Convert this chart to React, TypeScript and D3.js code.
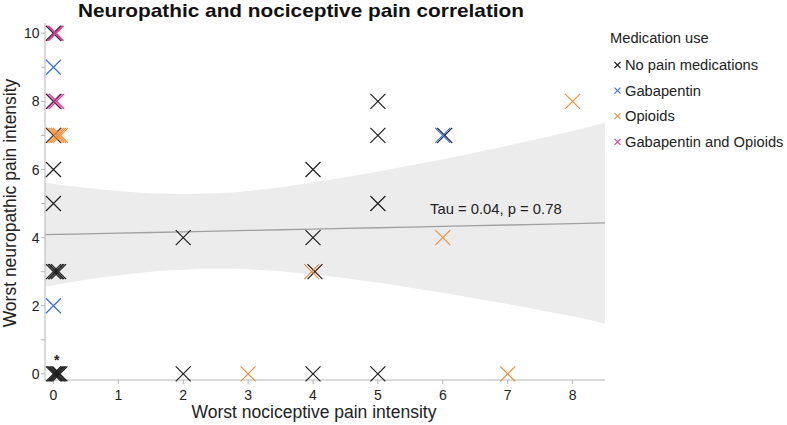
import React, { useEffect, useRef } from 'react'
import * as d3 from 'd3'

const groupNames = ['No pain medications', 'Gabapentin', 'Opioids', 'Gabapentin and Opioids']
const groupColors = ['#1e1e1e', '#3c6fe0', '#f28c38', '#d8399c']

// points per medication group (x = nociceptive, y = neuropathic); small x offsets are the plot's jitter
const noneX = [0, 0, 0, 0, 0, 0, 0.03, 0.05, 0.08, 0, 0.02, 0.04, 0.06, 0.08, 0.1, 2, 2, 4, 4, 4.03, 4, 5, 5, 5, 5, 6.03]
const noneY = [10, 8, 7, 6, 5, 3, 3, 3, 3, 0, 0, 0, 0, 0, 0, 4, 0, 6, 4, 3, 0, 8, 7, 5, 0, 7]
const gabaX = [0, 0, 6]
const gabaY = [9, 2, 7]
const opioidX = [0.02, 0.05, 0.08, 0.11, 3, 3.98, 6, 7, 8]
const opioidY = [7, 7, 7, 7, 0, 3, 4, 0, 8]
const bothX = [0.02, 0.04, 0.02, 0.05]
const bothY = [10, 10, 8, 8]

// regression line and confidence band
const bandX = [-0.13, 0.5, 1, 1.5, 2, 2.5, 3, 3.5, 4, 4.5, 5, 5.5, 6, 6.5, 7, 7.5, 8, 8.5]
const bandFit = [4.09, 4.11, 4.13, 4.15, 4.17, 4.19, 4.21, 4.23, 4.25, 4.27, 4.29, 4.31, 4.33, 4.35, 4.37, 4.39, 4.41, 4.43]
const bandUpper = [5.61, 5.46, 5.37, 5.3, 5.28, 5.3, 5.37, 5.48, 5.62, 5.77, 5.94, 6.12, 6.3, 6.5, 6.7, 6.91, 7.13, 7.37]
const bandLower = [2.56, 2.76, 2.89, 3.0, 3.06, 3.09, 3.07, 3.01, 2.92, 2.81, 2.68, 2.53, 2.38, 2.21, 2.05, 1.87, 1.69, 1.47]

const xTicks = [0, 1, 2, 3, 4, 5, 6, 7, 8]
const yTicks = [0, 1, 2, 3, 4, 5, 6, 7, 8, 9, 10]

export default function App() {
	const ref = useRef<SVGSVGElement>(null)

	useEffect(() => {
		const svg = d3.select(ref.current)
		svg.selectAll('*').remove()

		const font = 'Liberation Sans, Arial, Helvetica, sans-serif'
		const x = d3.scaleLinear().domain([-0.13, 8.5]).range([45, 605])
		const y = d3.scaleLinear().domain([-0.18, 10.3]).range([380, 23])

		// band
		const band = bandX.map((v, i) => ({ x: v, lo: bandLower[i], hi: bandUpper[i], fit: bandFit[i] }))
		const area = d3.area<any>()
			.x(d => x(d.x))
			.y0(d => y(d.lo))
			.y1(d => y(d.hi))
			.curve(d3.curveMonotoneX)
		svg.append('path').attr('d', area(band)).attr('fill', '#ececec')
		const line = d3.line<any>().x(d => x(d.x)).y(d => y(d.fit))
		svg.append('path').attr('d', line(band)).attr('fill', 'none').attr('stroke', '#a0a0a0').attr('stroke-width', 1.3)

		// axes
		const axisColor = '#b4b4b4'
		svg.append('line').attr('x1', 45).attr('x2', 45).attr('y1', y(10.3)).attr('y2', 380).attr('stroke', axisColor)
		svg.append('line').attr('x1', 45).attr('x2', 605).attr('y1', 380).attr('y2', 380).attr('stroke', axisColor)

		const yt = svg.append('g')
		yTicks.forEach(t => {
			yt.append('line').attr('x1', 41).attr('x2', 45).attr('y1', y(t)).attr('y2', y(t)).attr('stroke', axisColor)
			if (t % 2 === 0) {
				yt.append('text').attr('x', 39.5).attr('y', y(t)).attr('dy', '0.36em')
					.attr('text-anchor', 'end').style('font', `14px ${font}`).attr('fill', '#222').text(t)
			}
		})
		const xt = svg.append('g')
		xTicks.forEach(t => {
			xt.append('line').attr('x1', x(t)).attr('x2', x(t)).attr('y1', 380).attr('y2', 384).attr('stroke', axisColor)
			xt.append('text').attr('x', x(t)).attr('y', 400)
				.attr('text-anchor', 'middle').style('font', `14px ${font}`).attr('fill', '#222').text(t)
		})

		// titles
		svg.append('text').attr('x', 78).attr('y', 17).style('font', `bold 19px ${font}`).attr('fill', '#111')
			.attr('textLength', 446).attr('lengthAdjust', 'spacingAndGlyphs')
			.text('Neuropathic and nociceptive pain correlation')
		svg.append('text').attr('x', 314).attr('y', 418).attr('text-anchor', 'middle')
			.style('font', `17.5px ${font}`).attr('fill', '#222').text('Worst nociceptive pain intensity')
		svg.append('text').attr('transform', 'translate(15.5,203) rotate(-90)').attr('text-anchor', 'middle')
			.style('font', `17.5px ${font}`).attr('fill', '#222').text('Worst neuropathic pain intensity')

		// annotation
		svg.append('text').attr('x', 430).attr('y', 214).style('font', `14.8px ${font}`).attr('fill', '#222')
			.text('Tau = 0.04, p = 0.78')
		svg.append('text').attr('x', x(0.05)).attr('y', y(0.5)).attr('dy', '0.6em').attr('text-anchor', 'middle')
			.style('font', `bold 14px ${font}`).attr('fill', '#222').text('*')

		// points
		const cross = (g: any, cx: number, cy: number, r: number, color: string, w: number) => {
			g.append('path')
				.attr('d', `M${cx - r},${cy - r}L${cx + r},${cy + r}M${cx - r},${cy + r}L${cx + r},${cy - r}`)
				.attr('stroke', color).attr('stroke-width', w).attr('fill', 'none')
		}
		const pts = svg.append('g')
		const sets: [number[], number[]][] = [[noneX, noneY], [gabaX, gabaY], [opioidX, opioidY], [bothX, bothY]]
		sets.forEach(([xs, ys], gi) => {
			xs.forEach((v, i) => cross(pts, x(v), y(ys[i]), 7.5, groupColors[gi], 1.2))
		})

		// legend
		const lg = svg.append('g')
		lg.append('text').attr('x', 610).attr('y', 38).attr('dy', '0.35em').style('font', `14.7px ${font}`)
			.attr('fill', '#222').text('Medication use')
		groupNames.forEach((n, i) => {
			const ly = 65 + i * 25.6
			cross(lg, 617.5, ly, 3, groupColors[i], 1.1)
			lg.append('text').attr('x', 625).attr('y', ly).attr('dy', '0.35em').style('font', `14.7px ${font}`)
				.attr('fill', '#222').text(n)
		})
	}, [])

	return (
		<svg ref={ref} width={787} height={425} style={{ position: 'absolute', left: 0, top: 0, background: '#fff' }} />
	)
}
